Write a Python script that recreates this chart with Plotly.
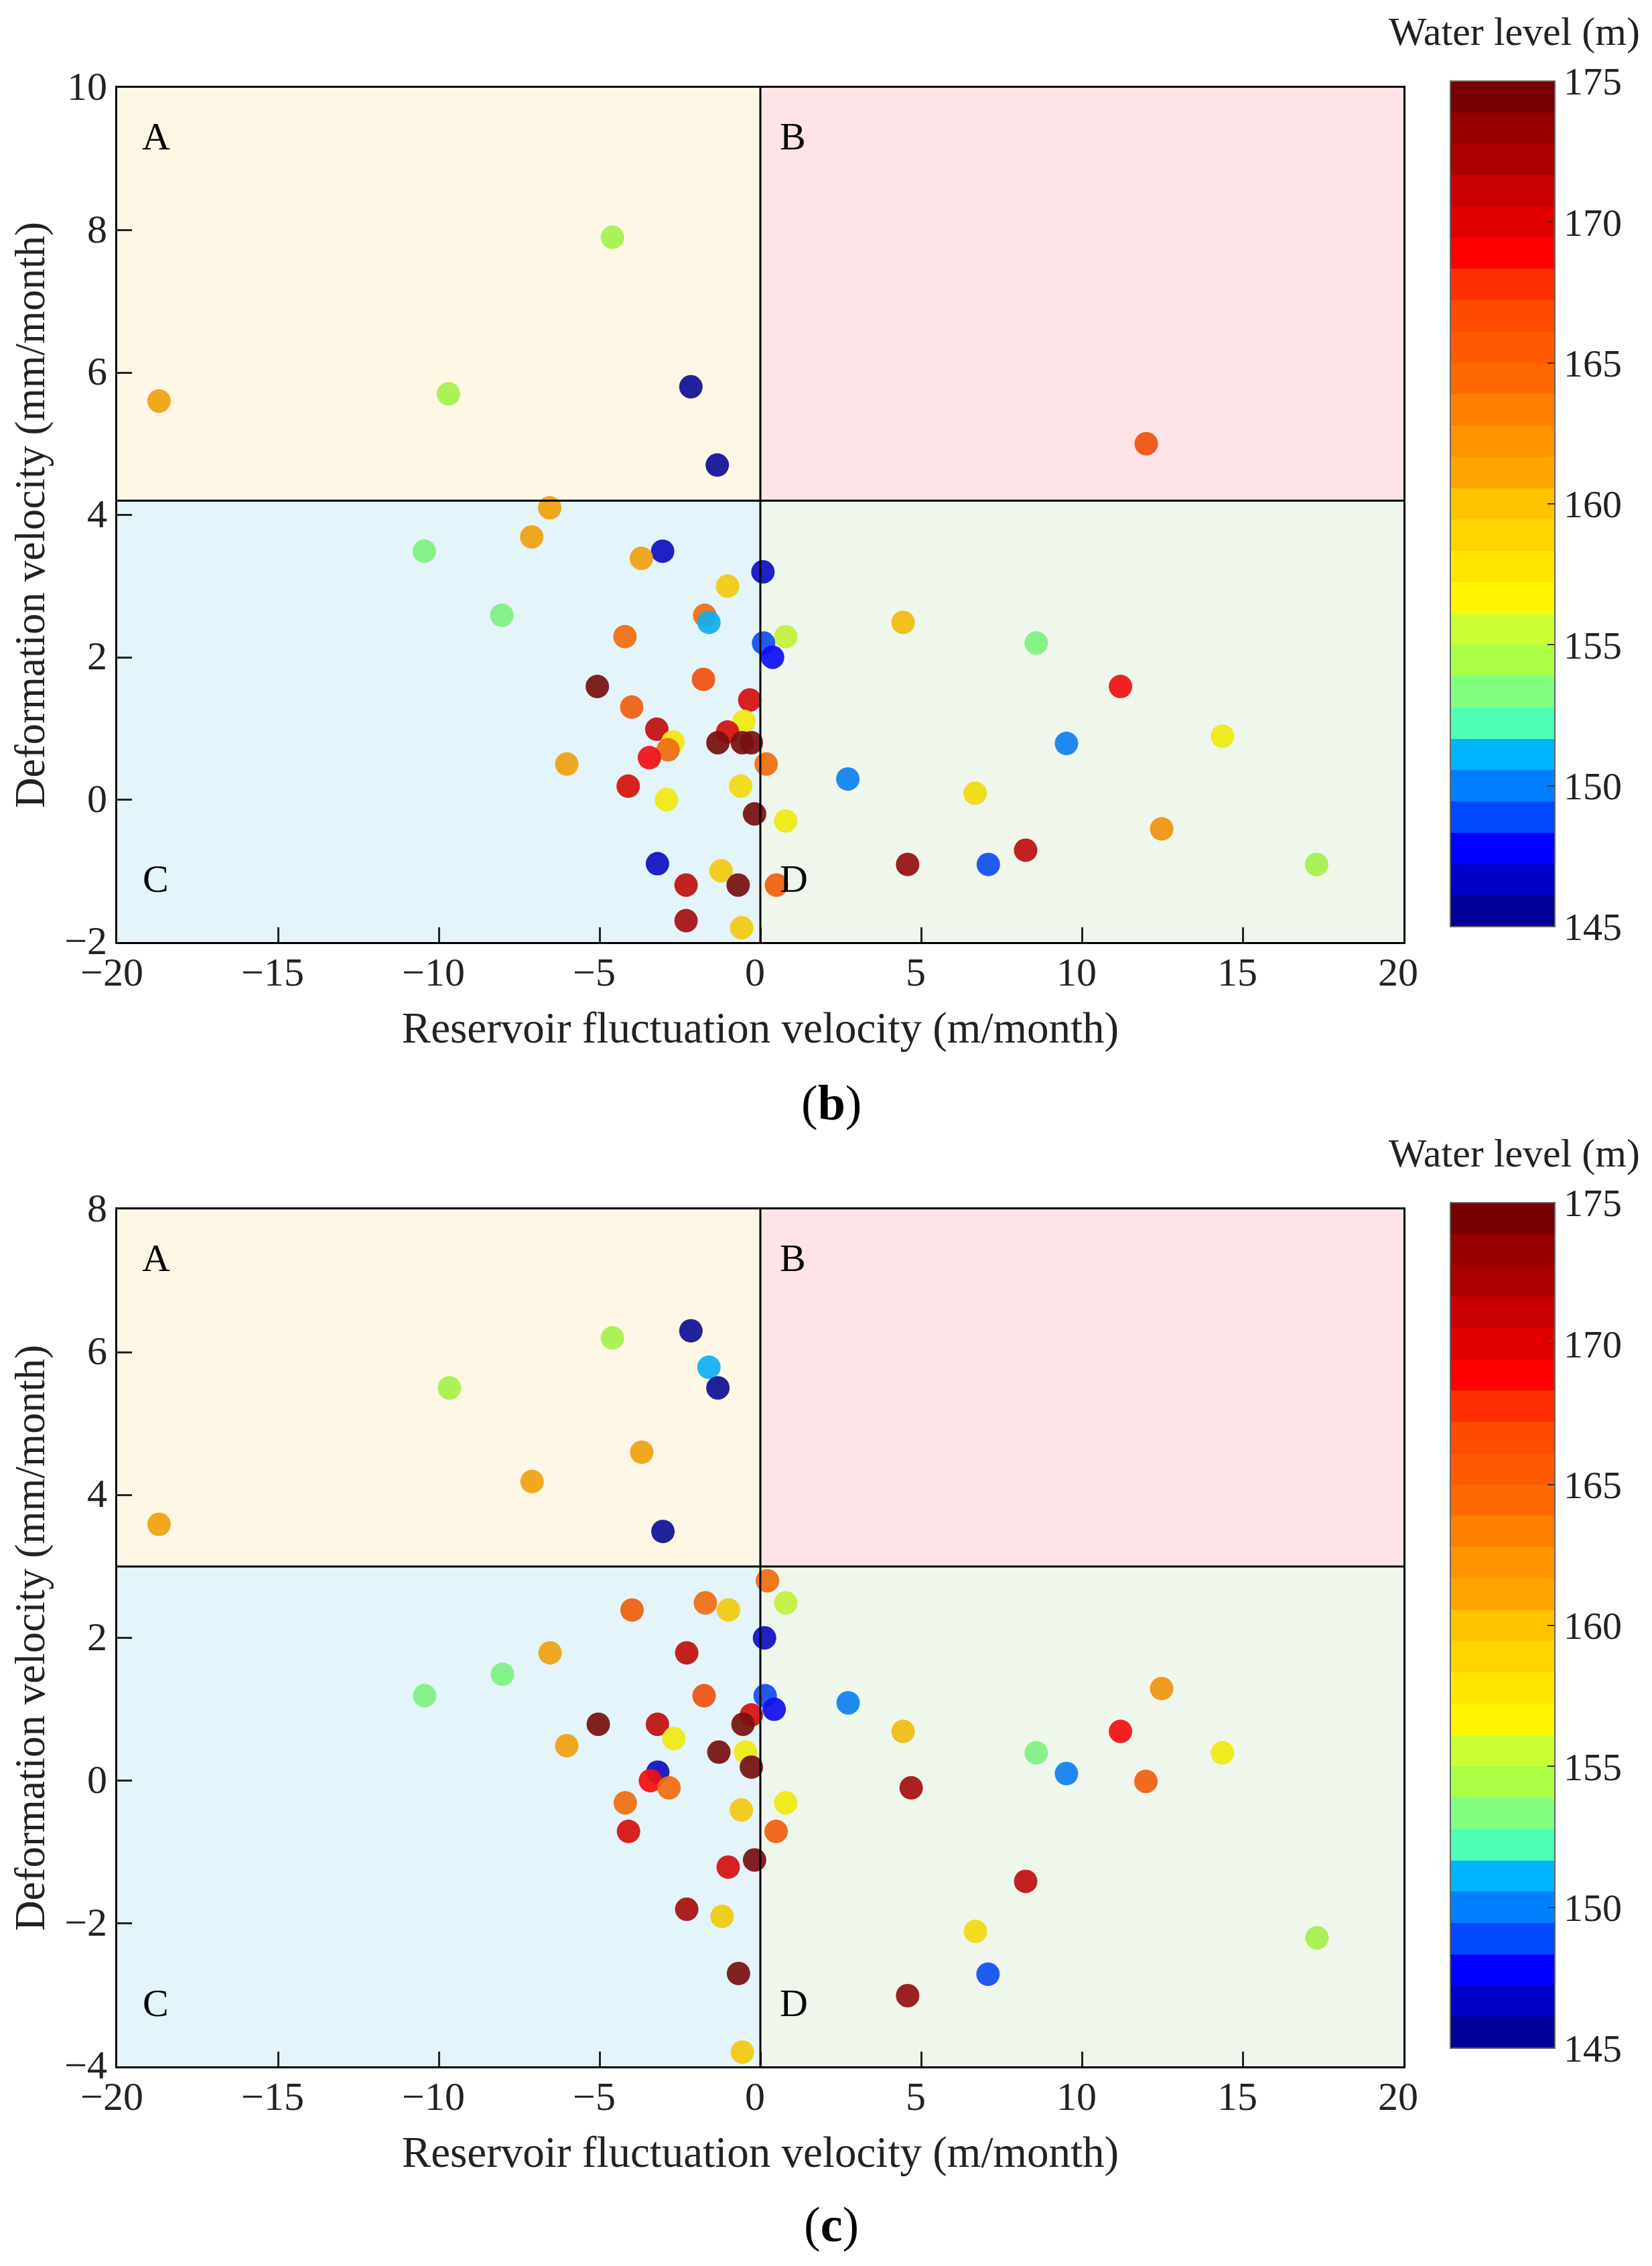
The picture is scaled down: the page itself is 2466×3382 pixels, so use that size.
import plotly.graph_objects as go

# panel (b): reservoir fluctuation velocity, deformation velocity, water level
b_fluct = [-18.7, -9.7, -4.6, -2.16, -1.34,
           -6.55, -7.11, -10.45, -3.04, -3.7, 0.08, -1.02, -8.04, -1.73, -1.6,
           -4.21, 0.79, 0.1, 0.38, -5.07, -1.77, -0.33, -4.0, -0.51, -3.22,
           -1.02, -2.72, -1.32, -0.56, -0.28, -2.87, -3.45, -6.02, 0.18, -4.11,
           -0.61, -2.92, -0.18, 0.79, -3.2, -1.22, -2.31, -0.69, 0.5, -2.31, -0.58,
           12.0, 4.44, 8.58, 11.2, 14.37, 9.52, 2.72, 6.68, 12.48, 8.25, 4.58, 7.09, 17.3]
b_deform = [5.6, 5.7, 7.9, 5.8, 4.7,
            4.1, 3.69, 3.49, 3.49, 3.39, 3.2, 3.0, 2.59, 2.59, 2.49,
            2.29, 2.29, 2.2, 2.0, 1.59, 1.69, 1.4, 1.3, 1.1, 0.99,
            0.95, 0.81, 0.8, 0.8, 0.8, 0.7, 0.59, 0.5, 0.5, 0.19,
            0.19, 0.0, -0.2, -0.3, -0.9, -1.0, -1.2, -1.2, -1.2, -1.7, -1.8,
            5.0, 2.49, 2.2, 1.59, 0.89, 0.79, 0.29, 0.09, -0.41, -0.71, -0.91, -0.91, -0.91]
b_level = [161.1, 154.4, 154.4, 146.0, 146.0,
           161.1, 161.1, 153.3, 146.7, 161.1, 146.7, 158.9, 153.3, 164.4, 151.1,
           164.4, 155.6, 148.9, 147.8, 174.4, 166.7, 170.0, 165.6, 156.7, 171.1,
           170.0, 156.7, 174.4, 174.4, 174.4, 164.4, 168.9, 161.1, 164.4, 170.0,
           157.8, 156.7, 174.4, 156.7, 146.7, 158.9, 171.1, 174.4, 165.6, 172.2, 158.9,
           166.7, 160.0, 153.3, 168.9, 156.7, 150.0, 150.0, 157.8, 162.2, 171.1, 173.3, 148.9, 154.4]

# panel (c)
c_fluct = [-18.7, -9.67, -7.1, -4.6, -3.69, -2.16, -1.6, -1.32, -3.03,
           0.22, -1.71, -0.99, -3.99, 0.79,
           0.13, -6.54, -2.29, -8.02, -10.44, -1.75, 0.15, 0.43, -0.28, -5.04,
           -3.2, -0.54, -2.69, -6.02, -1.29, -0.46, -0.28, -3.19, -3.42, -2.84,
           -4.2, -0.59, 0.79, -4.1, 0.49, -0.18, -1.0, -2.29, -1.19, -0.68, -0.56,
           12.48, 2.73, 11.2, 4.44, 8.58, 14.37, 9.52, 11.99, 4.69, 8.25, 6.69, 17.31, 7.08, 4.58]
c_deform = [3.59, 5.5, 4.19, 6.2, 4.6, 6.3, 5.79, 5.5, 3.49,
            2.8, 2.49, 2.39, 2.39, 2.49,
            2.0, 1.79, 1.79, 1.49, 1.19, 1.19, 1.19, 1.0, 0.92, 0.79,
            0.79, 0.79, 0.59, 0.49, 0.4, 0.4, 0.19, 0.12, 0.0, -0.1,
            -0.31, -0.41, -0.31, -0.71, -0.71, -1.11, -1.21, -1.8, -1.9, -2.7, -3.8,
            1.29, 1.09, 0.69, 0.69, 0.39, 0.39, 0.1, -0.01, -0.1, -1.41, -2.11, -2.2, -2.71, -3.01]
c_level = [161.1, 154.4, 161.1, 154.4, 161.1, 146.0, 151.1, 146.0, 146.0,
           164.4, 164.4, 158.9, 165.6, 155.6,
           146.7, 161.1, 171.1, 153.3, 153.3, 166.7, 148.9, 147.8, 170.0, 174.4,
           171.1, 174.4, 156.7, 161.1, 174.4, 156.7, 174.4, 146.7, 168.9, 164.4,
           164.4, 158.9, 156.7, 170.0, 165.6, 174.4, 170.0, 172.2, 158.9, 174.4, 158.9,
           162.2, 150.0, 168.9, 160.0, 153.3, 156.7, 150.0, 165.6, 172.2, 171.1, 157.8, 154.4, 148.9, 173.3]

# thresholds separating the A/B and C/D zones
b_split = 4.2
c_split = 3.0
x_split = 0

level_ticks = [145, 150, 155, 160, 165, 170, 175]
# 27 stepped colours of the colour bar, bottom to top
band_colors = ['#000096', '#0000c8', '#0000ff', '#0048ff', '#0080ff', '#00b4ff',
               '#4cffb4', '#80ff80', '#aaff44', '#ccff33', '#fff600', '#ffe600',
               '#ffd400', '#ffc400', '#ffa400', '#ff9400', '#ff8000', '#ff6a00',
               '#ff5a00', '#ff4c00', '#ff3000', '#ff0000', '#e00000', '#c80000',
               '#aa0000', '#960000', '#780000']


def stepped(colors, k=1.0, add=0):
    # stepped colorscale; the dots in the figure look a bit duller than the bar
    out = []
    n = len(colors)
    for i, c in enumerate(colors):
        r, g, b = (int(c[j:j + 2], 16) for j in (1, 3, 5))
        r, g, b = (min(255, int(v * k + add)) for v in (r, g, b))
        col = 'rgb(%d,%d,%d)' % (r, g, b)
        out.append([i / n, col])
        out.append([(i + 1) / n, col])
    return out


bar_scale = stepped(band_colors)
dot_scale = stepped(band_colors, 0.88, 16)

FONT = 'Liberation Serif, Times New Roman, serif'
W, H = 2466, 3382

fig = go.Figure()

panels = [
    dict(x=b_fluct, y=b_deform, lev=b_level, split=b_split, yr=[-2, 10], xa='x', ya='y',
         dom=[1 - 1398 / H, 1 - 123 / H], lab='(<b>b</b>)', laby=1638),
    dict(x=c_fluct, y=c_deform, lev=c_level, split=c_split, yr=[-4, 8], xa='x2', ya='y2',
         dom=[1 - 3076 / H, 1 - 1797 / H], lab='(<b>c</b>)', laby=3312),
]

xdom = [167 / W, 2087 / W]
axis_style = dict(showline=True, linecolor='black', linewidth=3, mirror=True,
                  ticks='inside', ticklen=22, tickwidth=3, tickcolor='#222',
                  showgrid=False, zeroline=False, automargin=False,
                  tickfont=dict(family=FONT, size=60, color='#222'))

for k, p in enumerate(panels):
    dot_ax = 'coloraxis%d' % (2 * k + 1) if k else 'coloraxis'
    bar_ax = 'coloraxis%d' % (2 * k + 2)
    fig.add_trace(go.Scatter(
        x=p['x'], y=p['y'], mode='markers', xaxis=p['xa'], yaxis=p['ya'],
        marker=dict(size=35, color=p['lev'], coloraxis=dot_ax, opacity=0.93,
                    line=dict(width=0)),
        showlegend=False, hoverinfo='x+y'))
    # colour bar holder, nothing drawn
    fig.add_trace(go.Scatter(
        x=[None], y=[None], mode='markers', xaxis=p['xa'], yaxis=p['ya'],
        marker=dict(color=level_ticks[:1], coloraxis=bar_ax), showlegend=False,
        hoverinfo='skip'))

    xr = [-20, 20]
    quads = [(xr[0], x_split, p['split'], p['yr'][1], '#fef7e6'),
             (x_split, xr[1], p['split'], p['yr'][1], '#fee4e6'),
             (xr[0], x_split, p['yr'][0], p['split'], '#e3f4fb'),
             (x_split, xr[1], p['yr'][0], p['split'], '#eff6ec')]
    for x0, x1, y0, y1, col in quads:
        fig.add_shape(type='rect', xref=p['xa'], yref=p['ya'], x0=x0, x1=x1, y0=y0, y1=y1,
                      fillcolor=col, line=dict(width=0), layer='below')
    fig.add_shape(type='line', xref=p['xa'], yref=p['ya'], x0=x_split, x1=x_split,
                  y0=p['yr'][0], y1=p['yr'][1], line=dict(color='black', width=3))
    fig.add_shape(type='line', xref=p['xa'], yref=p['ya'], x0=xr[0], x1=xr[1],
                  y0=p['split'], y1=p['split'], line=dict(color='black', width=3))

    span = p['yr'][1] - p['yr'][0]
    top_y = p['yr'][1] - 0.057 * span
    bot_y = p['yr'][0] + 0.074 * span
    for txt, xx, yy in [('A', -18.8, top_y), ('B', 1.0, top_y), ('C', -18.8, bot_y), ('D', 1.05, bot_y)]:
        fig.add_annotation(text=txt, x=xx, y=yy, xref=p['xa'], yref=p['ya'], showarrow=False,
                           font=dict(family=FONT, size=58, color='black'))

    xname = 'xaxis' if k == 0 else 'xaxis2'
    yname = 'yaxis' if k == 0 else 'yaxis2'
    fig.update_layout({
        xname: dict(axis_style, domain=xdom, range=xr, dtick=5, anchor=p['ya'],
                    ticklabelstandoff=-10, ticklabelshift=-8,
                    title=dict(text='Reservoir fluctuation velocity (m/month)', standoff=28,
                               font=dict(family=FONT, size=65, color='#222'))),
        yname: dict(axis_style, domain=p['dom'], range=p['yr'], dtick=2,
                    anchor=p['xa'], ticklabelshift=-3,
                    title=dict(text='Deformation velocity (mm/month)', standoff=10,
                               font=dict(family=FONT, size=63, color='#222'))),
    })

    bar_top = p['dom'][1] + 10 / H
    fig.update_layout({
        dot_ax: dict(colorscale=dot_scale, cmin=145, cmax=175, showscale=False),
        bar_ax: dict(
            colorscale=bar_scale, cmin=145, cmax=175,
            colorbar=dict(x=2157 / W, xanchor='left', y=bar_top, yanchor='top',
                          len=1262 / H, lenmode='fraction', thickness=156, thicknessmode='pixels',
                          outlinewidth=2, outlinecolor='#666', ticks='inside', ticklen=12,
                          tickwidth=2, tickcolor='#333', tickvals=level_ticks, tickprefix=' ',
                          tickfont=dict(family=FONT, size=58, color='#222'),
                          xpad=0, ypad=0))})

    fig.add_annotation(text='Water level (m)', xref='paper', yref='paper',
                       x=2252 / W, y=bar_top + 74 / H, xanchor='center', yanchor='middle',
                       showarrow=False, font=dict(family=FONT, size=60, color='#222'))
    fig.add_annotation(text=p['lab'], xref='paper', yref='paper', x=1233 / W,
                       y=1 - p['laby'] / H, xanchor='center', yanchor='middle', showarrow=False,
                       font=dict(family=FONT, size=74, color='black'))

fig.update_layout(width=W, height=H, margin=dict(l=0, r=0, t=0, b=0),
                  paper_bgcolor='white', plot_bgcolor='white',
                  font=dict(family=FONT))

fig.write_html('out.html')
